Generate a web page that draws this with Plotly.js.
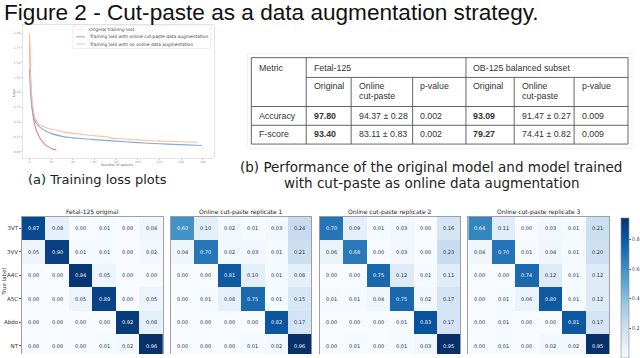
<!DOCTYPE html>
<html><head><meta charset="utf-8">
<script src="https://cdn.plot.ly/plotly-3.0.1.min.js"></script>
<style>html,body{margin:0;padding:0;background:#fff;}#chart{width:640px;height:358px;}</style>
</head><body><div id="chart"></div>
<script>
// ---------- DATA ----------
const figureTitle = 'Figure 2 - Cut-paste as a data augmentation strategy.';
const captionA = '(a) Training loss plots';
const captionB = ['(b) Performance of the original model and model trained', 'with cut-paste as online data augmentation'];

// Training loss curves
const epochsOriginal = [0,1,2,3,4,5,6,8,10,12,14,16,18,20,22,25];
const lossOriginal   = [1.98,1.25,0.88,0.66,0.53,0.45,0.38,0.29,0.22,0.17,0.13,0.10,0.08,0.06,0.045,0.03];
const epochsCutPaste = [0,1,2,3,4,5,6,8,10,15,20,30,40,50,60,80,100,120,140,159];
const lossCutPaste   = [1.40,1.00,0.78,0.66,0.58,0.53,0.49,0.45,0.41,0.35,0.31,0.26,0.235,0.22,0.205,0.18,0.155,0.135,0.12,0.105];
const epochsNoAug    = [0,1,2,3,4,5,6,8,10,15,20,30,40,50,60,70,73,75,80,90,100,110,120,130,140,155];
const lossNoAug      = [1.98,1.25,0.95,0.78,0.66,0.58,0.53,0.48,0.45,0.41,0.38,0.34,0.31,0.29,0.27,0.255,0.25,0.23,0.225,0.21,0.20,0.19,0.18,0.175,0.17,0.16];
const legendNames = ['Original training loss','Training loss with online cut-paste data augmentation','Training loss with no online data augmentation'];
const lossXTicks = [0,20,40,60,80,100,120,140,160];
const lossYTicks = [0,0.25,0.5,0.75,1,1.25,1.5,1.75,2];

// Table
const tableHeaderTop = ['Metric','Fetal-125','OB-125 balanced subset'];
const tableHeaderSub = ['Original','Online\ncut-paste','p-value','Original','Online\ncut-paste','p-value'];
const metrics        = ['Accuracy','F-score'];
const fetalOriginal  = ['97.80','93.40'];
const fetalCutPaste  = ['94.37 ± 0.28','83.11 ± 0.83'];
const fetalPValue    = ['0.002','0.002'];
const obOriginal     = ['93.09','79.27'];
const obCutPaste     = ['91.47 ± 0.27','74.41 ± 0.82'];
const obPValue       = ['0.009','0.009'];

// Confusion matrices
const classes = ['3VT','3VV','A4C','A5C','Abdo','NT'];
const matrixTitles = ['Fetal-125 original','Online cut-paste replicate 1','Online cut-paste replicate 2','Online cut-paste replicate 3'];
const cmOriginal = [
  [0.87,0.08,0.00,0.01,0.00,0.04],
  [0.05,0.90,0.01,0.01,0.00,0.02],
  [0.00,0.00,0.94,0.05,0.00,0.00],
  [0.00,0.00,0.05,0.89,0.00,0.05],
  [0.00,0.00,0.00,0.00,0.92,0.08],
  [0.00,0.00,0.00,0.01,0.02,0.96]];
const cmRep1 = [
  [0.60,0.10,0.02,0.01,0.03,0.24],
  [0.04,0.70,0.02,0.03,0.01,0.21],
  [0.00,0.00,0.81,0.10,0.01,0.08],
  [0.00,0.01,0.08,0.75,0.01,0.15],
  [0.00,0.00,0.00,0.00,0.82,0.17],
  [0.00,0.00,0.00,0.01,0.02,0.96]];
const cmRep2 = [
  [0.70,0.09,0.01,0.03,0.00,0.16],
  [0.06,0.68,0.00,0.03,0.00,0.23],
  [0.00,0.00,0.75,0.12,0.01,0.11],
  [0.01,0.01,0.04,0.75,0.02,0.17],
  [0.00,0.00,0.00,0.01,0.83,0.17],
  [0.00,0.01,0.00,0.01,0.03,0.95]];
const cmRep3 = [
  [0.64,0.11,0.00,0.03,0.01,0.21],
  [0.04,0.70,0.01,0.04,0.01,0.20],
  [0.00,0.00,0.74,0.12,0.01,0.12],
  [0.00,0.01,0.06,0.80,0.01,0.12],
  [0.00,0.01,0.00,0.00,0.81,0.17],
  [0.00,0.01,0.00,0.02,0.02,0.95]];
const colorbarTicks = [0.2,0.4,0.6,0.8];

// ---------- BUILD ----------
const W = 640, H = 358;
const px = v => v / W;
const py = v => 1 - v / H;
const blues = [[0,'#f7fbff'],[0.125,'#deebf7'],[0.25,'#c6dbef'],[0.375,'#9ecae1'],[0.5,'#6baed6'],[0.625,'#4292c6'],[0.75,'#2171b5'],[0.875,'#08519c'],[1,'#08306b']];
const lineColors = ['#e57f8c','#86a9dc','#ffc09a'];
const legendColors = ['#fbe3e3','#86a9dc','#ffc09a'];

const traces = [];
const lossSets = [[epochsOriginal,lossOriginal],[epochsCutPaste,lossCutPaste],[epochsNoAug,lossNoAug]];
lossSets.forEach((s,i)=>{
  traces.push({type:'scatter',mode:'lines',x:s[0],y:s[1],xaxis:'x',yaxis:'y',
    line:{color:lineColors[i],width:1.1,shape:'spline'},name:legendNames[i],hoverinfo:'skip'});
});

const matrices = [cmOriginal,cmRep1,cmRep2,cmRep3];
const hmLeft = [22,171,320,469];
const hmWidth = 141;
const annotations = [];
const shapes = [];
const layout = {
  width:W,height:H,margin:{l:0,r:0,t:0,b:0},paper_bgcolor:'#fff',plot_bgcolor:'#fff',
  showlegend:false,font:{family:'DejaVu Sans',color:'#222'},
  xaxis:{domain:[px(23),px(214)],range:[-6,170],tickvals:lossXTicks,ticktext:lossXTicks.map(String),
    tickfont:{size:3,color:'#999'},showline:true,mirror:true,linecolor:'#ddd',linewidth:0.8,
    ticks:'outside',ticklen:1.2,tickcolor:'#ccc',showgrid:false,zeroline:false,anchor:'y'},
  yaxis:{domain:[py(159.5),py(25)],range:[-0.1,2.14],tickvals:lossYTicks,ticktext:lossYTicks.map(v=>v.toFixed(2)),
    tickfont:{size:3,color:'#999'},showline:true,mirror:true,linecolor:'#ddd',linewidth:0.8,
    ticks:'outside',ticklen:1.2,tickcolor:'#ccc',showgrid:false,zeroline:false,anchor:'x'}
};

matrices.forEach((m,k)=>{
  const ax = k+2;
  const zmax = Math.max(...m.flat());
  const zmin = Math.min(...m.flat());
  const tr = {type:'heatmap',z:m,x:[0,1,2,3,4,5],y:[0,1,2,3,4,5],xaxis:'x'+ax,yaxis:'y'+ax,
    colorscale:blues,zmin:zmin,zmax:zmax,showscale:k===3,hoverinfo:'skip'};
  if(k===3){
    tr.colorbar = {x:px(621.5),xanchor:'left',y:py(220),yanchor:'top',len:142/H,lenmode:'fraction',
      thickness:7.5,xpad:0,ypad:0,tickvals:colorbarTicks,ticktext:colorbarTicks.map(v=>v.toFixed(1)),
      ticks:'outside',ticklen:2,tickcolor:'#666',tickfont:{size:5,color:'#444'},outlinewidth:0.6,outlinecolor:'#888'};
  }
  traces.push(tr);
  layout['xaxis'+ax] = {domain:[px(hmLeft[k]),px(hmLeft[k]+hmWidth)],range:[-0.5,5.5],showticklabels:false,
    showline:true,side:'top',linecolor:'#888',linewidth:0.8,showgrid:false,zeroline:false,ticks:'',anchor:'y'+ax};
  layout['yaxis'+ax] = {domain:[0,py(219)],range:[5.34,-0.5],showline:true,mirror:true,linecolor:'#888',linewidth:0.8,
    showgrid:false,zeroline:false,anchor:'x'+ax,tickvals:[0,1,2,3,4,5],ticktext:classes,
    showticklabels:k===0,ticks:k===0?'outside':'',ticklen:2,tickcolor:'#555',tickfont:{size:5.5,color:'#333'}};
  const thresh = (zmax+zmin)/2;
  m.forEach((row,i)=>row.forEach((v,j)=>{
    annotations.push({xref:'x'+ax,yref:'y'+ax,x:j,y:i,text:v.toFixed(2),showarrow:false,
      font:{size:5,color:v<thresh?'#1f2b44':'#f7fbff'}});
  }));
  annotations.push({xref:'paper',yref:'paper',x:px(hmLeft[k]+hmWidth/2),y:py(214),text:matrixTitles[k],
    showarrow:false,xanchor:'center',yanchor:'middle',font:{size:6,color:'#222'}});
});
annotations.push({xref:'paper',yref:'paper',x:px(4),y:py(285),text:'True label',textangle:-90,showarrow:false,
  xanchor:'center',yanchor:'middle',font:{size:5.5,color:'#333'}});

// loss plot axis labels and legend
annotations.push({xref:'paper',yref:'paper',x:px(117),y:py(166.8),text:'Number of epochs',showarrow:false,
  xanchor:'center',yanchor:'middle',font:{size:3.5,color:'#777'}});
annotations.push({xref:'paper',yref:'paper',x:px(14),y:py(94),text:'Loss',textangle:-90,showarrow:false,
  xanchor:'center',yanchor:'middle',font:{size:3.5,color:'#777'}});
shapes.push({type:'rect',xref:'paper',yref:'paper',x0:px(73),x1:px(211),y0:py(49),y1:py(25.5),
  line:{color:'#e2e2e2',width:0.6},fillcolor:'rgba(255,255,255,0.85)',layer:'above'});
const legendY = [30,37.3,44.5];
legendNames.forEach((n,i)=>{
  shapes.push({type:'line',xref:'paper',yref:'paper',x0:px(76),x1:px(85),y0:py(legendY[i]),y1:py(legendY[i]),
    line:{color:legendColors[i],width:1},layer:'above'});
  annotations.push({xref:'paper',yref:'paper',x:px(87.5),y:py(legendY[i]),text:n,showarrow:false,
    xanchor:'left',yanchor:'middle',font:{size:4.4,color:'#444'}});
});

// figure title and captions
annotations.push({xref:'paper',yref:'paper',x:px(2),y:py(13),text:figureTitle,showarrow:false,
  xanchor:'left',yanchor:'middle',font:{family:'Liberation Sans, Arial',size:22.6,color:'#111'}});
annotations.push({xref:'paper',yref:'paper',x:px(98),y:py(182),text:captionA,showarrow:false,
  xanchor:'center',yanchor:'middle',font:{size:13,color:'#222'}});
captionB.forEach((t,i)=>{
  annotations.push({xref:'paper',yref:'paper',x:px(432),y:py(169+i*16.5),text:t,showarrow:false,
    xanchor:'center',yanchor:'middle',font:{size:13.5,color:'#222'}});
});

// table (lines + text)
const colX = [251.7,306.7,351.7,413.3,466.7,515,575,629];
const rowY = [58.3,78.3,107.7,126.7,145.7];
const tLine = {color:'#555',width:0.9};
const hl = (y,x0,x1)=>shapes.push({type:'line',xref:'paper',yref:'paper',x0:px(x0),x1:px(x1),y0:py(y),y1:py(y),line:tLine});
const vl = (x,y0,y1)=>shapes.push({type:'line',xref:'paper',yref:'paper',x0:px(x),x1:px(x),y0:py(y0),y1:py(y1),line:tLine});
shapes.push({type:'rect',xref:'paper',yref:'paper',x0:px(248),x1:px(633),y0:py(150),y1:py(54),line:{color:'#eee',width:0.8}});
hl(rowY[0],colX[0],colX[7]); hl(rowY[1],colX[1],colX[7]); hl(rowY[2],colX[0],colX[7]);
hl(rowY[3],colX[0],colX[7]); hl(rowY[4],colX[0],colX[7]);
[0,1,4,7].forEach(c=>vl(colX[c],rowY[0],rowY[4]));
[2,3,5,6].forEach(c=>vl(colX[c],rowY[1],rowY[4]));
const tFont = ()=>({family:'Liberation Sans, Arial',size:8.8,color:'#333'});
const cellText = (t,c,yc,bold)=>annotations.push({xref:'paper',yref:'paper',x:px(colX[c]+5.5),y:py(yc),text:bold?'<b>'+t+'</b>':t,
  showarrow:false,xanchor:'left',yanchor:'middle',font:tFont()});
cellText(tableHeaderTop[0],0,68.3); cellText(tableHeaderTop[1],1,68.3); cellText(tableHeaderTop[2],4,68.3);
tableHeaderSub.forEach((t,i)=>{ t.split('\n').forEach((ln,k)=>cellText(ln,i+1,87.3+k*9.6)); });
const rowCenters = [116.9,136.0];
metrics.forEach((m,r)=>{
  const yc = rowCenters[r];
  cellText(m,0,yc);
  cellText(fetalOriginal[r],1,yc,true);
  cellText(fetalCutPaste[r],2,yc);
  cellText(fetalPValue[r],3,yc);
  cellText(obOriginal[r],4,yc,true);
  cellText(obCutPaste[r],5,yc);
  cellText(obPValue[r],6,yc);
});

layout.annotations = annotations;
layout.shapes = shapes;
Plotly.newPlot('chart',traces,layout,{displayModeBar:false,staticPlot:true});
</script></body></html>
